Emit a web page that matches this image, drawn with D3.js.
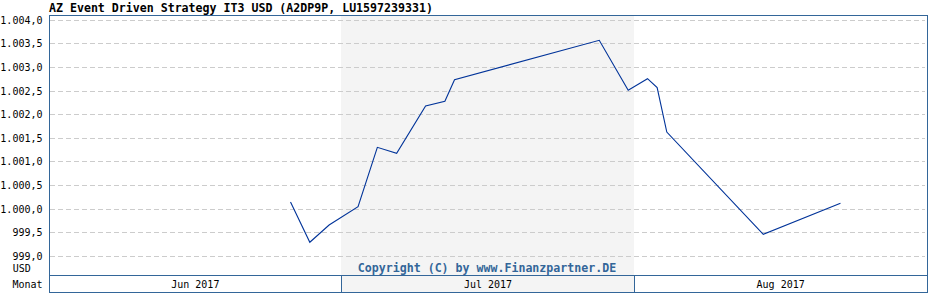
<!DOCTYPE html>
<html>
<head>
<meta charset="utf-8">
<script src="https://cdn.jsdelivr.net/npm/d3@7"></script>
<style>
  body { margin: 0; background: #fff; }
  svg { display: block; }
</style>
</head>
<body>
<div id="chart"></div>
<script>
// chart data
const title = "AZ Event Driven Strategy IT3 USD (A2DP9P, LU1597239331)";
const months = ["Jun 2017", "Jul 2017", "Aug 2017"];
const shadedMonths = ["Jul 2017"];
const dates = [
  "2017-06-26", "2017-06-28", "2017-06-30", "2017-07-03", "2017-07-05",
  "2017-07-07", "2017-07-10", "2017-07-12", "2017-07-13", "2017-07-28",
  "2017-07-31", "2017-08-02", "2017-08-03", "2017-08-04", "2017-08-14",
  "2017-08-22"
];
const prices = [
  1000.150, 999.297, 999.663, 1000.051, 1001.309,
  1001.182, 1002.184, 1002.284, 1002.742, 1003.576,
  1002.519, 1002.763, 1002.576, 1001.633, 999.466,
  1000.123
];
const yTicks = [999, 999.5, 1000, 1000.5, 1001, 1001.5, 1002, 1002.5, 1003, 1003.5, 1004];
const xDomain = ["2017-06-01", "2017-08-31"];
const unitLabel = "USD";
const axisLabel = "Monat";
const copyright = "Copyright (C) by www.Finanzpartner.DE";

const width = 928, height = 300;
const plotLeft = 49.3, plotRight = 927.3;
const plotTop = 15.5, plotBottom = 275.5, frameBottom = 292.5;

const frameColor = "#336699";
const lineColor = "#003399";
const mono = "'DejaVu Sans Mono', monospace";

const parse = d3.utcParse("%Y-%m-%d");
const de = d3.formatLocale({ decimal: ",", thousands: ".", grouping: [3], currency: ["", " €"] });
const fmt = de.format(",.1f");

const x = d3.scaleUtc()
    .domain(xDomain.map(parse))
    .range([plotLeft, plotRight]);

const y = d3.scaleLinear()
    .domain([999, 1004])
    .range([256.3, 20.3]);

const band = d3.scaleBand()
    .domain(months)
    .range([49, 927]);

const svg = d3.select("#chart").append("svg")
    .attr("width", width)
    .attr("height", height)
    .style("font-family", mono);

// shaded month columns
svg.append("g")
  .selectAll("rect")
  .data(shadedMonths)
  .join("rect")
    .attr("x", d => Math.floor(band(d)))
    .attr("y", plotTop)
    .attr("width", d => Math.floor(band(d) + band.bandwidth()) - Math.floor(band(d)))
    .attr("height", frameBottom - plotTop)
    .attr("fill", "#f4f4f4");

// dashed grid
svg.append("g")
  .selectAll("line")
  .data(yTicks)
  .join("line")
    .attr("x1", 50)
    .attr("x2", 925)
    .attr("y1", d => Math.floor(y(d)) + 0.5)
    .attr("y2", d => Math.floor(y(d)) + 0.5)
    .attr("stroke", "#cccccc")
    .attr("stroke-dasharray", "5,3")
    .attr("shape-rendering", "crispEdges");

// y labels
svg.append("g")
  .selectAll("text")
  .data(yTicks)
  .join("text")
    .attr("x", 42.5)
    .attr("y", d => Math.floor(y(d)) + 4)
    .attr("text-anchor", "end")
    .attr("font-size", 10)
    .attr("fill", "#000")
    .text(d => fmt(d));

svg.append("text")
    .attr("x", 12.7)
    .attr("y", 272)
    .attr("font-size", 10)
    .text(unitLabel);

svg.append("text")
    .attr("x", 42.5)
    .attr("y", 287.5)
    .attr("text-anchor", "end")
    .attr("font-size", 10)
    .text(axisLabel);

// title
svg.append("text")
    .attr("x", 49)
    .attr("y", 12.3)
    .attr("font-size", 11.6)
    .attr("font-weight", "bold")
    .text(title);

// copyright
svg.append("text")
    .attr("x", 487)
    .attr("y", 271.5)
    .attr("text-anchor", "middle")
    .attr("font-size", 11.6)
    .attr("font-weight", "bold")
    .attr("fill", frameColor)
    .text(copyright);

// price line
const points = dates.map((d, i) => [parse(d), prices[i]]);
svg.append("path")
    .datum(points)
    .attr("fill", "none")
    .attr("stroke", lineColor)
    .attr("stroke-width", 1.1)
    .attr("d", d3.line().x(d => x(d[0])).y(d => y(d[1])));

// frame and month row
svg.append("rect")
    .attr("x", 49.5)
    .attr("y", plotTop)
    .attr("width", 878)
    .attr("height", frameBottom - plotTop)
    .attr("fill", "none")
    .attr("stroke", frameColor)
    .attr("shape-rendering", "crispEdges");

svg.append("line")
    .attr("x1", 49.5).attr("x2", 927.5)
    .attr("y1", plotBottom).attr("y2", plotBottom)
    .attr("stroke", frameColor)
    .attr("shape-rendering", "crispEdges");

svg.append("g")
  .selectAll("line")
  .data(months.slice(1))
  .join("line")
    .attr("x1", d => Math.floor(band(d)) + 0.5)
    .attr("x2", d => Math.floor(band(d)) + 0.5)
    .attr("y1", plotBottom)
    .attr("y2", frameBottom)
    .attr("stroke", frameColor)
    .attr("shape-rendering", "crispEdges");

svg.append("g")
  .selectAll("text")
  .data(months)
  .join("text")
    .attr("x", d => band(d) + band.bandwidth() / 2)
    .attr("y", 287.5)
    .attr("text-anchor", "middle")
    .attr("font-size", 10)
    .text(d => d);
</script>
</body>
</html>
